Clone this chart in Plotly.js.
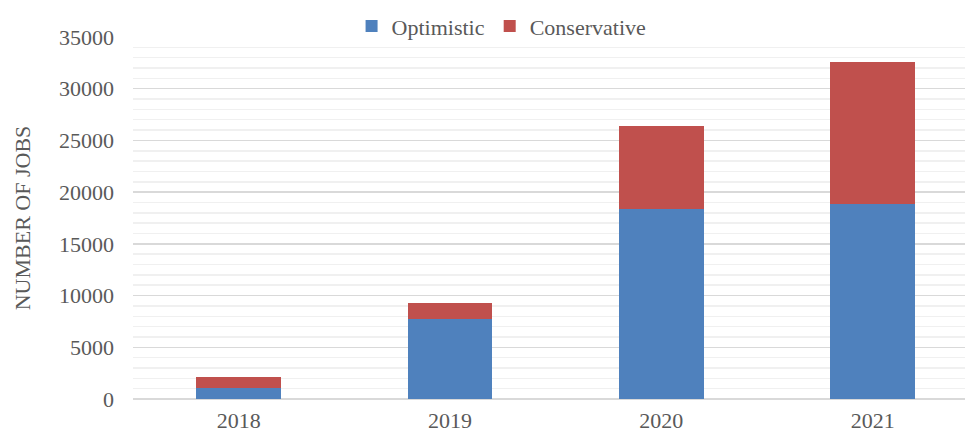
<!DOCTYPE html>
<html>
<head>
<meta charset="utf-8">
<script src="https://cdn.plot.ly/plotly-3.0.1.min.js"></script>
<style>html,body{margin:0;padding:0;background:#fff;}#chart{width:965px;height:435px;}</style>
</head>
<body>
<div id="chart"></div>
<script>
const years = ['2018', '2019', '2020', '2021'];
const optimistic = [1100, 7700, 18400, 18900];
const conservative = [1000, 1550, 8000, 13700];
const seriesNames = ['Optimistic', 'Conservative'];
const seriesColors = ['#4F81BD', '#C0504D'];

const font = {family: '"Liberation Serif", "Times New Roman", serif', size: 22, color: '#595959'};

const traces = [
  {type: 'bar', name: seriesNames[0], x: years, y: optimistic, marker: {color: seriesColors[0]}, width: 0.4},
  {type: 'bar', name: seriesNames[1], x: years, y: conservative, marker: {color: seriesColors[1]}, width: 0.4}
];

const layout = {
  width: 965, height: 435,
  barmode: 'stack',
  margin: {l: 133, r: 0, t: 37, b: 36},
  paper_bgcolor: '#fff', plot_bgcolor: '#fff',
  font: font,
  showlegend: true,
  legend: {orientation: 'h', x: 0.443, xanchor: 'center', y: 1.03, yanchor: 'middle',
           font: font, bgcolor: 'rgba(0,0,0,0)', traceorder: 'normal', itemwidth: 30},
  xaxis: {type: 'category', range: [-0.5, 3.437], showgrid: false, showline: false,
          zeroline: false, ticks: '', ticklabelstandoff: 6, tickfont: font},
  yaxis: {range: [0, 35000], dtick: 5000, tick0: 0, tickformat: 'd', showgrid: true, gridcolor: '#d9d9d9', gridwidth: 1.5,
          zeroline: true, zerolinecolor: '#d9d9d9', zerolinewidth: 1.5, showline: false, ticks: '',
          ticklabelstandoff: 18, tickfont: font,
          minor: {dtick: 1000, showgrid: true, gridcolor: '#f0f0f0', gridwidth: 1.5},
          title: {text: 'NUMBER OF JOBS', font: font, standoff: 22}}
};

Plotly.newPlot('chart', traces, layout, {staticPlot: true, displayModeBar: false});
</script>
</body>
</html>
